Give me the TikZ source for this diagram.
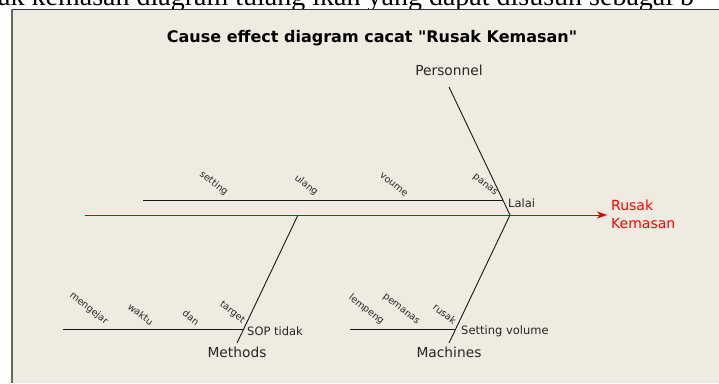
\documentclass[tikz,border=0pt]{standalone}
\usepackage{fontspec}
\setmainfont{DejaVu Sans}
\newfontfamily\docfont{Liberation Serif}
\usetikzlibrary{positioning, arrows.meta}
\definecolor{paperbeige}{RGB}{240,235,224}
\definecolor{spinered}{RGB}{215,0,0}
\definecolor{effectred}{RGB}{255,0,0}

\begin{document}
\begin{tikzpicture}[x=1pt, y=-1pt,
  bone/.style={draw=black!90, line width=0.9pt},
  spine/.style={draw=spinered, line width=0.9pt, -{Stealth[length=10pt, width=7pt, inset=3pt]}},
  cause/.style={font=\fontsize{13.8}{16}\selectfont, text=black!85, inner sep=1pt},
  subcause/.style={font=\fontsize{11.5}{14}\selectfont, text=black!85, inner sep=1pt, anchor=west},
  detail/.style={font=\fontsize{9.5}{11}\selectfont, text=black!85, inner sep=0.5pt, anchor=south east, rotate=-38},
  effect/.style={font=\fontsize{14}{18}\selectfont, text=effectred, align=left, anchor=west, inner sep=0pt},
  heading/.style={font=\bfseries\fontsize{16}{18}\selectfont}
]
    \useasboundingbox (0,0) rectangle (719,383);
    \fill[white] (0,0) rectangle (719,383);

    % Frame
    \fill[paperbeige] (12,9) rectangle (719,383);
    \draw[black!80, line width=0.8pt] (12,9) -- (719,9);
    \draw[black!60, line width=1.4pt] (12,9) -- (12,383);

    % Text of the page above the picture
    \begin{scope}
      \clip (0,0) rectangle (719,8.5);
      \node[anchor=base west, inner sep=0pt, font=\docfont\fontsize{28}{30}\selectfont] (pagetext) at (-2,5)
        {ak kemasan diagram tulang ikan yang dapat disusun sebagai b};
    \end{scope}

    % Title
    \node[heading] (title) at (372,38) {Cause effect diagram cacat \textquotedbl Rusak Kemasan\textquotedbl};

    % Spine
    \coordinate (tail) at (85,215);
    \coordinate (head) at (510,215);
    \coordinate (tip) at (607,215);
    \draw[spine] (tail) -- (tip);
    \node[effect] (effect) at (611,214) {Rusak\\Kemasan};

    % Main bones
    \coordinate (persTop) at (449,87);
    \coordinate (machBot) at (449,343);
    \coordinate (methTop) at (298,215);
    \coordinate (methBot) at (237,343);
    \draw[bone] (persTop) -- (head);
    \draw[bone] (head) -- (machBot);
    \draw[bone] (methTop) -- (methBot);

    \node[cause] (personnel) at (449,70) {Personnel};
    \node[cause, below=3pt of methBot] (methods) {Methods};
    \node[cause, below=3pt of machBot] (machines) {Machines};

    % Sub bones
    \coordinate (lalaiL) at (143,200);
    \coordinate (lalaiR) at (503,200);
    \coordinate (sopL) at (63,329);
    \coordinate (sopR) at (244,329);
    \coordinate (setL) at (350,329);
    \coordinate (setR) at (456,329);
    \draw[bone] (lalaiL) -- (lalaiR);
    \draw[bone] (sopL) -- (sopR);
    \draw[bone] (setL) -- (setR);

    \node[subcause] (lalai) at (507,203) {Lalai};
    \node[subcause] (sop) at (246,331) {SOP tidak};
    \node[subcause] (setvol) at (460,331) {Setting volume};

    % Details on the sub bones
    \node[detail] (d1) at (224,198) {setting};
    \node[detail] (d2) at (314,198) {ulang};
    \node[detail] (d3) at (405,198) {voume};
    \node[detail] (d4) at (494,198) {panas};

    \node[detail] (d5) at (104,327) {mengejar};
    \node[detail] (d6) at (150,327) {waktu};
    \node[detail] (d7) at (196,327) {dan};
    \node[detail] (d8) at (241,326) {target};

    \node[detail] (d9) at (380,327) {lempeng};
    \node[detail] (d10) at (416,327) {pemanas};
    \node[detail] (d11) at (453,326) {rusak};

\end{tikzpicture}
\end{document}
